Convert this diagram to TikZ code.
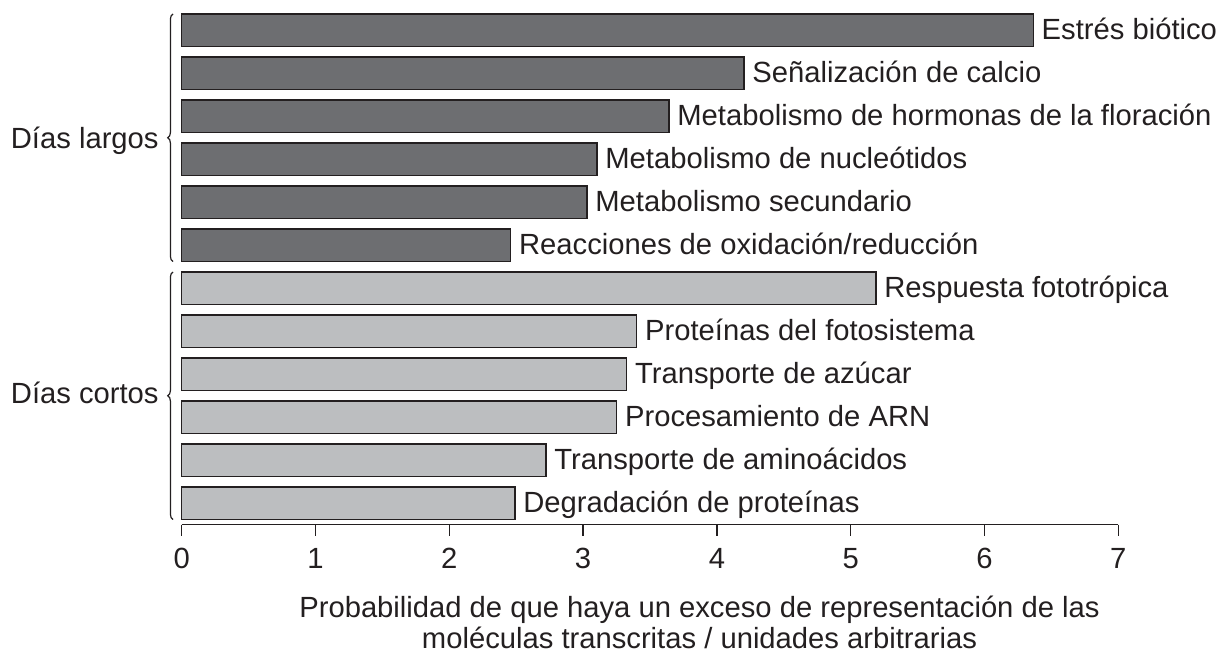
\documentclass[tikz,border=0pt]{standalone}
\usepackage{fontspec}
\setmainfont{Liberation Sans}
\usetikzlibrary{decorations.pathreplacing}
\definecolor{ink}{HTML}{231F20}
\definecolor{darkbar}{HTML}{6D6E71}
\definecolor{lightbar}{HTML}{BCBEC0}
\tikzset{
  barline/.style={draw=ink, line width=0.7bp},
  lab/.style={inner sep=0pt, text=ink},
  axisline/.style={draw=ink, line width=0.7bp},
  bracestyle/.style={draw=ink, line width=0.6bp, decorate, decoration={brace, amplitude=2.6bp, aspect=0.5}},
}
\newcommand{\mybar}[4]{%
  \pgfmathsetmacro\yt{14+43*(#1-1)}%
  \pgfmathsetmacro\yb{\yt+32.5}%
  \pgfmathsetmacro\yc{\yt+16.25}%
  \draw[barline, fill=#3] (181.7,\yt) rectangle (#2,\yb);
  \node[lab, anchor=base west] (l#1) at (#2+8,\yc+9) {#4};
}
\begin{document}
\begin{tikzpicture}[x=0.5bp, y=-0.5bp, font=\fontsize{14.6bp}{17bp}\selectfont]
\useasboundingbox (0,0) rectangle (1219,652);
\mybar{1}{1033.3}{darkbar}{Estrés biótico}
\mybar{2}{744}{darkbar}{Señalización de calcio}
\mybar{3}{669}{darkbar}{Metabolismo de hormonas de la floración}
\mybar{4}{597}{darkbar}{Metabolismo de nucleótidos}
\mybar{5}{587}{darkbar}{Metabolismo secundario}
\mybar{6}{510.7}{darkbar}{Reacciones de oxidación/reducción}
\mybar{7}{876}{lightbar}{Respuesta fototrópica}
\mybar{8}{636.7}{lightbar}{Proteínas del fotosistema}
\mybar{9}{626.7}{lightbar}{Transporte de azúcar}
\mybar{10}{616.7}{lightbar}{Procesamiento de ARN}
\mybar{11}{546}{lightbar}{Transporte de aminoácidos}
\mybar{12}{515}{lightbar}{Degradación de proteínas}
% axis
\coordinate (a0) at (181.7,524.5);
\coordinate (a7) at (1118.3,524.5);
\draw[axisline] (a0) -- (a7);
\foreach \k in {0,...,7}{
  \coordinate (t\k) at ({181.7+133.8*\k},524.5);
  \coordinate (tb\k) at ({181.7+133.8*\k},536);
  \draw[axisline] (t\k) -- (tb\k);
  \node[lab, anchor=base] (n\k) at ({181.7+133.8*\k},568) {\k};
}
% braces
\coordinate (bl1) at (173,261.5);
\coordinate (bl2) at (173,14);
\coordinate (bs1) at (173,519.5);
\coordinate (bs2) at (173,272);
\draw[bracestyle] (bl1) -- (bl2);
\draw[bracestyle] (bs1) -- (bs2);
\node[lab, anchor=base east] (largos) at (159,148) {Días largos};
\node[lab, anchor=base east] (cortos) at (159,403) {Días cortos};
% caption
\node[lab, anchor=base] (cap1) at (699.5,617) {Probabilidad de que haya un exceso de representación de las};
\node[lab, anchor=base] (cap2) at (699.5,648) {moléculas transcritas / unidades arbitrarias};
\end{tikzpicture}
\end{document}
